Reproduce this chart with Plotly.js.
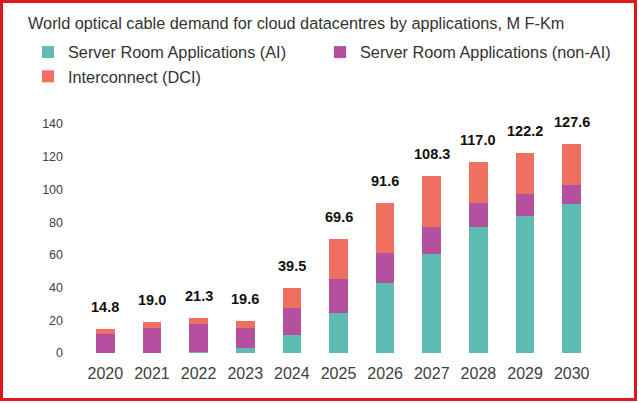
<!DOCTYPE html>
<html>
<head>
<meta charset="utf-8">
<script src="https://cdn.plot.ly/plotly-3.0.1.min.js"></script>
<style>
  html, body { margin: 0; padding: 0; background: #ffffff; }
  #wrap { position: relative; width: 639px; height: 403px; overflow: hidden; }
  #chart { position: absolute; left: 0; top: 0; width: 639px; height: 403px; }
  #frame { position: absolute; left: 0; top: 0; width: 637px; height: 401px;
           box-sizing: border-box; border: 3px solid #e3141b; pointer-events: none; }
</style>
</head>
<body>
<div id="wrap">
  <div id="chart"></div>
  <div id="frame"></div>
</div>
<script>
// Years on the x axis
const years = ['2020', '2021', '2022', '2023', '2024', '2025', '2026', '2027', '2028', '2029', '2030'];

// Demand by application, M F-Km
const aiServerRoom    = [0.2, 0.3, 0.8, 2.8, 10.8, 24.6, 42.5, 60.6, 76.9, 84.0, 91.2];
const nonAiServerRoom = [11.6, 15.0, 16.7, 12.7, 16.9, 20.4, 18.5, 16.5, 14.6, 13.0, 11.5];
const interconnectDci = [3.0, 3.7, 3.8, 4.1, 11.8, 24.6, 30.6, 31.2, 25.5, 25.2, 24.9];

const seriesNames = ['Server Room Applications (AI)', 'Server Room Applications (non-AI)', 'Interconnect (DCI)'];
const yTicks = [0, 20, 40, 60, 80, 100, 120, 140];

const COLORS = ['#5dbdb2', '#b5509f', '#ef6f61'];
const FONT = '"Liberation Sans", Arial, sans-serif';

const seriesValues = [aiServerRoom, nonAiServerRoom, interconnectDci];

const traces = seriesValues.map((vals, i) => ({
  type: 'bar',
  name: seriesNames[i],
  x: years,
  y: vals,
  marker: { color: COLORS[i], line: { width: 0 } },
  hoverinfo: 'skip'
}));

// Stack totals written above each bar (x given as category index)
const totals = years.map((_, k) => aiServerRoom[k] + nonAiServerRoom[k] + interconnectDci[k]);
const totalLabels = totals.map((t, k) => ({
  x: k,
  y: t,
  xref: 'x',
  yref: 'y',
  text: '<b>' + t.toFixed(1) + '</b>',
  showarrow: false,
  yanchor: 'bottom',
  yshift: 12,
  font: { family: FONT, size: 14.5, color: '#111111' }
}));

const layout = {
  width: 639,
  height: 403,
  paper_bgcolor: '#ffffff',
  plot_bgcolor: '#ffffff',
  margin: { l: 82, r: 44, t: 124, b: 50 },
  barmode: 'stack',
  bargap: 0.6,
  title: {
    text: 'World optical cable demand for cloud datacentres by applications, M F-Km',
    xref: 'container', x: 28 / 639, xanchor: 'left',
    yref: 'container', y: 1 - 23 / 403, yanchor: 'middle',
    font: { family: FONT, size: 16.3, color: '#333333' }
  },
  showlegend: true,
  legend: {
    orientation: 'h',
    xref: 'paper', x: -0.1053, xanchor: 'left',
    yref: 'paper', y: 1.3886, yanchor: 'top',
    entrywidth: 247,
    entrywidthmode: 'pixels',
    traceorder: 'normal',
    font: { family: FONT, size: 16.3, color: '#333333' },
    bgcolor: 'rgba(0,0,0,0)'
  },
  xaxis: {
    type: 'category',
    range: [-0.5, years.length - 0.5],
    showgrid: false, zeroline: false, showline: false,
    ticks: '',
    ticklabelstandoff: 9,
    tickfont: { family: FONT, size: 16, color: '#404040' }
  },
  yaxis: {
    range: [0, 140],
    tickvals: yTicks,
    ticktext: yTicks.map(String),
    showgrid: false, zeroline: false, showline: false,
    ticks: '',
    ticklabelstandoff: 18,
    tickfont: { family: FONT, size: 12.5, color: '#404040' }
  },
  annotations: totalLabels
};

Plotly.newPlot('chart', traces, layout, { staticPlot: true, displayModeBar: false });
</script>
</body>
</html>
